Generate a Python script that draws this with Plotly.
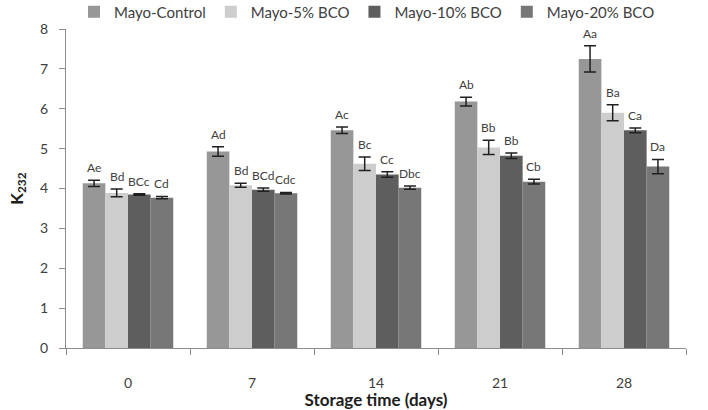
import plotly.graph_objects as go

days = ["0", "7", "14", "21", "28"]
series_names = ["Mayo-Control", "Mayo-5% BCO", "Mayo-10% BCO", "Mayo-20% BCO"]
control = [4.13, 4.93, 5.46, 6.18, 7.25]
bco5 = [3.89, 4.08, 4.62, 5.03, 5.90]
bco10 = [3.85, 3.97, 4.35, 4.82, 5.46]
bco20 = [3.77, 3.88, 4.02, 4.17, 4.55]
err_control = [0.08, 0.12, 0.08, 0.11, 0.33]
err_bco5 = [0.10, 0.05, 0.17, 0.18, 0.20]
err_bco10 = [0.02, 0.04, 0.07, 0.07, 0.06]
err_bco20 = [0.03, 0.02, 0.04, 0.06, 0.18]
lab_control = ["Ae", "Ad", "Ac", "Ab", "Aa"]
lab_bco5 = ["Bd", "Bd", "Bc", "Bb", "Ba"]
lab_bco10 = ["BCc", "BCd", "Cc", "Bb", "Ca"]
lab_bco20 = ["Cd", "Cdc", "Dbc", "Cb", "Da"]
colors = ["#979797", "#cdcdcd", "#5e5e5e", "#777777"]

values = [control, bco5, bco10, bco20]
errors = [err_control, err_bco5, err_bco10, err_bco20]
labels = [lab_control, lab_bco5, lab_bco10, lab_bco20]

W, H = 708, 410
ml, mr, mt, mb = 66, 22, 29, 62
bargap = 0.27
plot_w = W - ml - mr
plot_h = H - mt - mb
cat_w = plot_w / len(days)
bar_w = cat_w * (1 - bargap) / len(series_names)

fig = go.Figure()
for i, name in enumerate(series_names):
    fig.add_trace(go.Bar(
        x=days, y=values[i], name=name,
        marker=dict(color=colors[i], line=dict(width=0)),
        error_y=dict(type="data", array=errors[i], color="#202020",
                     thickness=1.5, width=6),
    ))
    shift = (i - (len(series_names) - 1) / 2) * bar_w
    for j, (v, e, t) in enumerate(zip(values[i], errors[i], labels[i])):
        fig.add_annotation(x=j, y=v + e, text=t, xref="x", yref="y",
                           xshift=shift, yshift=3, yanchor="bottom",
                           showarrow=False,
                           font=dict(size=12, color="#404040", family="Lato"))

fig.update_layout(
    width=W, height=H,
    margin=dict(l=ml, r=mr, t=mt, b=mb, autoexpand=False),
    barmode="group", bargap=bargap, bargroupgap=0,
    plot_bgcolor="white", paper_bgcolor="white",
    font=dict(family="Lato", color="#404040", size=14),
    showlegend=True,
    legend=dict(orientation="h",
                x=8 / plot_w, xanchor="left", y=1 + 17 / plot_h, yanchor="middle",
                font=dict(size=15, color="#404040"), itemwidth=30,
                traceorder="normal"),
)
fig.update_xaxes(
    type="category", range=[-0.5, len(days) - 0.5],
    showline=True, linecolor="#8c8c8c", linewidth=1,
    ticks="outside", tickson="boundaries", ticklen=6, tickcolor="#8c8c8c",
    tickfont=dict(size=14, color="#404040"), ticklabelstandoff=22,
    title=dict(text="<b>Storage time (days)</b>", font=dict(size=17, color="#202020"),
               standoff=16),
)
fig.update_yaxes(
    range=[0, 8], dtick=1, showgrid=False, zeroline=False,
    showline=True, linecolor="#8c8c8c", linewidth=1,
    ticks="outside", ticklen=6, tickcolor="#8c8c8c",
    tickfont=dict(size=14, color="#404040"), ticklabelstandoff=8,
    title=dict(text="<b>K<sub>232</sub></b>", font=dict(size=17, color="#202020"),
               standoff=12),
)

fig.write_html("out.html", config={"displayModeBar": False},
               post_script="document.body.style.margin='0';")
